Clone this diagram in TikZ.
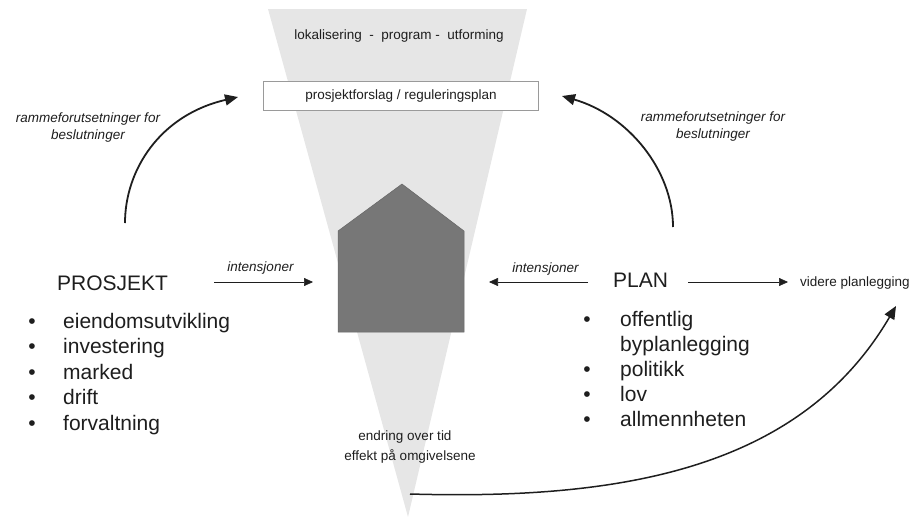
\documentclass[tikz,border=0pt]{standalone}
\usepackage{fontspec}
\setmainfont{Liberation Sans}
\usetikzlibrary{arrows.meta}
\definecolor{funnelgray}{HTML}{E6E6E6}
\definecolor{housegray}{HTML}{777777}
\definecolor{houseedge}{HTML}{666666}
\definecolor{boxedge}{HTML}{9A9A9A}
\definecolor{inkgray}{HTML}{1E1E1E}
\begin{document}
\begin{tikzpicture}[x=1pt,y=-1pt,
  smalltxt/.style={font=\fontsize{13.5}{16}\selectfont, text=inkgray, inner sep=0pt, anchor=base},
  smallit/.style={smalltxt, font=\fontsize{13.5}{16}\selectfont\itshape},
  bigtxt/.style={font=\fontsize{21}{25}\selectfont, text=inkgray, inner sep=0pt, anchor=base west},
  bulletmark/.style={font=\fontsize{21}{25}\selectfont, text=inkgray, inner sep=0pt, anchor=base},
  flow/.style={-{Triangle[length=9pt,width=8pt]}, line width=0.6pt, draw=inkgray},
  bendarrow/.style={-{Triangle[length=13pt,width=11pt]}, line width=1.8pt, draw=inkgray},
]
\useasboundingbox (0,0) rectangle (915,517);

% funnel narrowing from the brief down to the built result
\fill[funnelgray] (268,9) -- (527,9) -- (408,517) -- cycle;

% proposal box across the funnel
\node[draw=boxedge, fill=white, line width=0.8pt, minimum width=275pt, minimum height=29pt, inner sep=0pt]
  (proposal) at (400.5,95.5) {};
\node[smalltxt] (proposaltxt) at (401,99.5) {prosjektforslag / reguleringsplan};
\node[smalltxt] (phases) at (399,39.5) {lokalisering \ - \ program - \ utforming};

% the building
\filldraw[fill=housegray, draw=houseedge, line width=0.5pt]
  (338,332) -- (338,231) -- (402,184) -- (464,231) -- (464,332) -- cycle;

% project side
\node[bigtxt] (prosjekt) at (57,290) {PROSJEKT};
\foreach \y/\t [count=\i] in {328/eiendomsutvikling, 353.5/investering, 379/marked, 404.5/drift, 430/forvaltning}{
  \node[bulletmark] (pb\i) at (32,\y) {\textbullet};
  \node[bigtxt] (pi\i) at (63,\y) {\t};
}

% plan side
\node[bigtxt] (plan) at (613,287) {PLAN};
\node[bulletmark] (lb1) at (587,326.7) {\textbullet};
\node[bigtxt] (li1) at (620,326.7) {offentlig};
\node[bigtxt] (li2) at (620,351.7) {byplanlegging};
\node[bulletmark] (lb3) at (587,376.7) {\textbullet};
\node[bigtxt] (li3) at (620,376.7) {politikk};
\node[bulletmark] (lb4) at (587,401) {\textbullet};
\node[bigtxt] (li4) at (620,401) {lov};
\node[bulletmark] (lb5) at (587,426.7) {\textbullet};
\node[bigtxt] (li5) at (620,426.7) {allmennheten};

\node[smalltxt, anchor=base west] (videre) at (800,286) {videre planlegging};

% labels
\node[smallit] (rlA) at (88,122) {rammeforutsetninger for};
\node[smallit] (rlB) at (88,139) {beslutninger};
\node[smallit] (rrA) at (713,121.7) {rammeforutsetninger for};
\node[smallit] (rrB) at (713,138) {beslutninger};
\node[smallit] (intL) at (260.5,271.7) {intensjoner};
\node[smallit] (intR) at (545.5,272.7) {intensjoner};
\node[smalltxt] (endring) at (405,440.7) {endring over tid};
\node[smalltxt] (effekt) at (410,460.7) {effekt på omgivelsene};

% connector end points
\coordinate (pjOut) at (214,282);
\coordinate (houseW) at (313,282);
\coordinate (plOut) at (588,282);
\coordinate (houseE) at (489,282);
\coordinate (plRight) at (688,282);
\coordinate (videreW) at (788,282);
\coordinate (pjUp) at (125,223);
\coordinate (propW) at (238,97);
\coordinate (plUp) at (673,227);
\coordinate (propE) at (562,96);
\coordinate (funnelTip) at (410,494);
\coordinate (videreS) at (896,306);

% straight connectors
\draw[flow] (pjOut) -- (houseW);
\draw[flow] (plOut) -- (houseE);
\draw[flow] (plRight) -- (videreW);

% curved connectors
\draw[bendarrow] (pjUp) .. controls (125,170) and (160,115) .. (propW);
\draw[bendarrow] (plUp) .. controls (673,170) and (628,115) .. (propE);
\draw[bendarrow, line width=1.5pt] (funnelTip) .. controls (620,500) and (800,470) .. (videreS);
\end{tikzpicture}
\end{document}
